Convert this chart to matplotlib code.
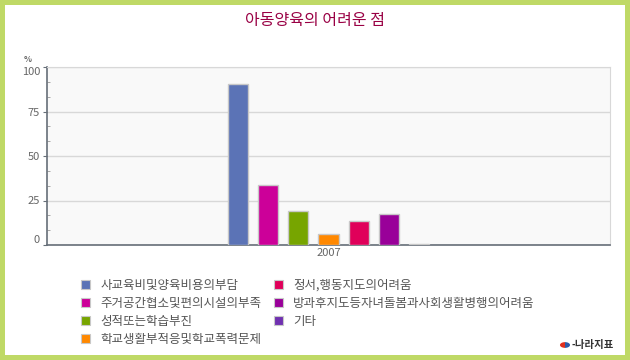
import matplotlib.pyplot as plt
from matplotlib.patches import Rectangle, Patch, Wedge

plt.rcParams['font.family'] = ['Noto Sans CJK KR', 'DejaVu Sans']

title = '아동양육의 어려운 점'
year = '2007'
categories = ['사교육비및양육비용의부담', '주거공간협소및편의시설의부족', '성적또는학습부진',
              '학교생활부적응및학교폭력문제', '정서,행동지도의어려움',
              '방과후지도등자녀돌봄과사회생활병행의어려움', '기타']
values = [90.3, 33.5, 18.9, 6.0, 13.3, 17.2, 0.5]
colors = ['#5B73B6', '#CC0099', '#77A500', '#FF8800', '#E0005A', '#990099', '#7030B0']

fig = plt.figure(figsize=(6.3, 3.6), dpi=100)
fig.patch.set_facecolor('#BFD966')
fig.add_artist(Rectangle((5 / 630, 5 / 360), 620 / 630, 350 / 360, facecolor='white',
                         edgecolor='none', transform=fig.transFigure, zorder=0))

ax = fig.add_axes([47 / 630, 1 - 245 / 360, 563 / 630, 178 / 360])
ax.set_facecolor('#F9F9F9')

n = len(values)
pos = [i - (n - 1) / 2 for i in range(n)]
ax.bar(pos, values, width=0.667, color=colors, edgecolor='#C8C8C8', linewidth=1, zorder=3)

ax.set_xlim(-9.38, 9.38)
ax.set_ylim(0, 100)
ax.set_xticks([0])
ax.set_xticklabels([year], color='#666666', fontsize=8)
ax.tick_params(axis='x', length=0, pad=2)

ax.set_yticks([0, 25, 50, 75, 100])
ax.set_yticks([i * 100 / 12 for i in range(13)], minor=True)
ax.set_yticklabels(['0', '25', '50', '75', '100'], color='#666666', fontsize=8)
ax.tick_params(axis='y', which='major', length=3, color='#666E78', pad=2)
ax.tick_params(axis='y', which='minor', length=2, direction='in', color='#999999')
labs = ax.get_yticklabels()
labs[0].set_va('bottom')
labs[-1].set_va('top')

ax.grid(axis='y', color='#D8D8D8', linewidth=1, zorder=1)
for s in ['top', 'right']:
    ax.spines[s].set_color('#D8D8D8')
for s in ['left', 'bottom']:
    ax.spines[s].set_color('#666E78')
    ax.spines[s].set_linewidth(1.2)

fig.text(28 / 630, 1 - 60 / 360, '%', fontsize=6, color='#666666', ha='center', va='center',
         fontweight='bold')
fig.text(315 / 630, 1 - 21 / 360, title, fontsize=11.5, color='#990044', ha='center', va='center')

handles = [Patch(facecolor=c, edgecolor='#C8C8C8', linewidth=0.8) for c in colors]
fig.legend(handles, categories, ncol=2, loc='upper left', bbox_to_anchor=(81 / 630, 1 - 279 / 360),
           frameon=False, fontsize=9, labelcolor='#555555', handlelength=0.75, handleheight=0.75,
           handletextpad=0.8, columnspacing=1.0, labelspacing=0.4, borderaxespad=0, borderpad=0)

# logo
fig.add_artist(Wedge((565 / 630, 1 - 345 / 360), 0.008, 90, 270, facecolor='#E0301E',
                     transform=fig.transFigure))
fig.add_artist(Wedge((565 / 630, 1 - 345 / 360), 0.008, 270, 90, facecolor='#2B5BA8',
                     transform=fig.transFigure))
fig.text(572 / 630, 1 - 345 / 360, '-나라지표', fontsize=7.5, color='#333333', ha='left',
         va='center', fontweight='bold')

fig.savefig('out.png', dpi=100)
